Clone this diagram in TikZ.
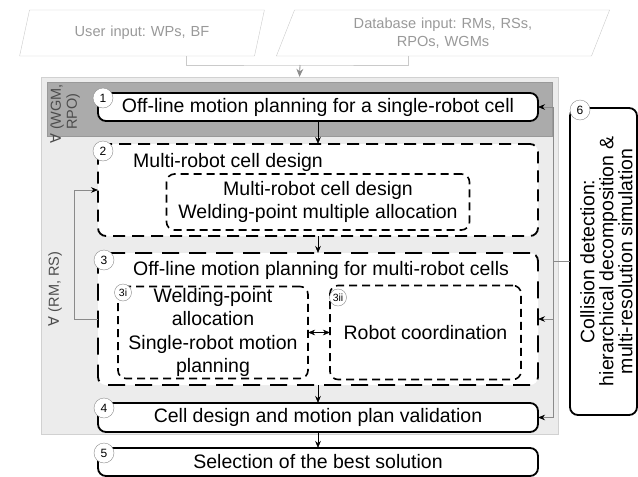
\documentclass[tikz,border=0pt]{standalone}
\usepackage{fontspec}
\setmainfont{Liberation Sans}
\newfontfamily\symfont{DejaVu Sans}
\usepackage{tikz}
\usetikzlibrary{arrows.meta,positioning,shapes.geometric,calc}
\frenchspacing

\definecolor{bandgray}{HTML}{ABABAB}
\definecolor{panelgray}{HTML}{ECECEC}
\definecolor{inputgray}{HTML}{CACACA}
\definecolor{wiregray}{HTML}{8A8A8A}

\begin{document}
\begin{tikzpicture}[x=1pt,y=-1pt,>={Stealth[length=7pt,width=5.5pt,color=black]},node distance=20pt,
    every node/.style={font=\fontsize{19.5}{23.5}\selectfont},
    input/.style={trapezium,trapezium left angle=64,trapezium right angle=116,
      trapezium stretches body,draw=inputgray,text=black!40,align=center,inner xsep=0pt,
      font=\fontsize{14.6}{18}\selectfont,minimum height=46pt},
    stage/.style={draw,line width=1.8pt,rounded corners=8pt,fill=white,
      minimum width=440pt,inner sep=0pt,outer sep=0pt},
    dashstage/.style={stage,dash pattern=on 12pt off 7pt},
    substage/.style={stage,line width=1.6pt,dash pattern=on 8pt off 5pt,align=center},
    num/.style={circle,draw=black!45,fill=white,inner sep=0pt,minimum size=20pt,
      font=\fontsize{12}{12}\selectfont},
    subnum/.style={num,minimum size=17pt,font=\fontsize{10.5}{10.5}\selectfont},
    wire/.style={draw=wiregray,line width=0.6pt},
    forall/.style={rotate=90,text=black!70,font=\fontsize{14.5}{16}\selectfont,inner sep=0pt}]

  \useasboundingbox (0,0) rectangle (638,477);

  % inputs
  \node[input,text width=225pt] (userin) at (142,33) {User input: WPs, BF};
  \node[input,text width=297pt] (dbin) at (443,33) {Database input: RMs, RSs,\\RPOs, WGMs};

  % panels
  \node[draw=black!18,fill=panelgray,minimum width=517pt,minimum height=357pt] (panel) at (299.5,255.5) {};
  \node[draw=black!40,fill=bandgray,minimum width=505pt,minimum height=54pt] (band) at (299.5,109) {};

  \coordinate (merge) at (300,65);
  \draw[draw=inputgray,line width=0.6pt] ($(userin.bottom left corner)!.71!(userin.bottom right corner)$)
    |- (merge) -| ($(dbin.bottom left corner)!.42!(dbin.bottom right corner)$);
  \draw[-{Stealth[length=8pt,width=7pt]},draw=black!45,line width=0.8pt] (merge) -- (panel.north);

  % stages
  \node[stage,minimum height=28pt] (b1) at (318,107) {Off-line motion planning for a single-robot cell};
  \node[dashstage,minimum height=92pt] (b2) [below=23pt of b1] {};
  \node[dashstage,minimum height=132pt,dash pattern=on 17pt off 10pt] (b3) [below=17pt of b2] {};
  \node[stage,minimum height=29pt] (b4) [below=18pt of b3] {Cell design and motion plan validation};
  \node[stage,minimum height=28pt] (b5) [below=16pt of b4] {Selection of the best solution};

  \node[anchor=west,inner sep=0pt] (b2title) at ([shift={(35pt,-18pt)}]b2.north west) {Multi-robot cell design};
  \node[substage,minimum width=303pt,minimum height=56pt] (b2i) at ([yshift=-12pt]b2.center)
    {Multi-robot cell design\\Welding-point multiple allocation};

  \node[anchor=west,inner sep=0pt] (b3title) at ([shift={(35pt,-17pt)}]b3.north west) {Off-line motion planning for multi-robot cells};
  \node[substage,minimum width=190pt,minimum height=92pt] (b3i) at ([shift={(-105pt,-13.5pt)}]b3.center)
    {Welding-point\\allocation\\Single-robot motion\\planning};
  \node[substage,minimum width=191pt,minimum height=94pt] (b3ii) at ([shift={(107.5pt,-13.5pt)}]b3.center)
    {Robot coordination};

  \node[stage,minimum width=67pt,minimum height=307pt] (b6) at (603.5,261.5) {};
  \node[rotate=90,align=center,font=\fontsize{19.5}{19}\selectfont] (b6text) at ([xshift=3pt]b6.center)
    {Collision detection:\\hierarchical decomposition \&\\multi-resolution simulation};

  % numbers
  \node[num] (n1) at ([shift={(5pt,-5pt)}]b1.north west) {1};
  \node[num] (n2) at ([shift={(5pt,-7pt)}]b2.north west) {2};
  \node[num] (n3) at ([shift={(6pt,-7pt)}]b3.north west) {3};
  \node[num] (n4) at ([shift={(6pt,-5pt)}]b4.north west) {4};
  \node[num] (n5) at ([shift={(6pt,-5pt)}]b5.north west) {5};
  \node[num] (n6) at ([shift={(10pt,-2pt)}]b6.north west) {6};
  \node[subnum] (n3i) at ([shift={(5pt,-6pt)}]b3i.north west) {3i};
  \node[subnum] (n3ii) at ([shift={(8pt,-12pt)}]b3ii.north west) {3ii};

  % loop labels
  \node[forall,align=left] (wgmrpo) at (65,114) {{\symfont ∀} (WGM,\\\hphantom{{\symfont ∀} }RPO)};
  \node[forall] (rmrs) at (55,289) {{\symfont ∀} (RM, RS)};

  % flow
  \path[->] (b1) edge (b2);
  \path[->] (b2) edge (b3);
  \path[->] (b3) edge (b4);
  \path[->] (b4) edge (b5);
  \path[<->] (b3i) edge (b3ii);

  \draw[wire,->] (b3.west) -- ++(-24pt,0) |- (b2.west);

  \coordinate (bus) at ([xshift=-17pt]b6.west);
  \draw[wire] (b6.west) -- (bus);
  \draw[wire,->] (bus) |- (b1.east);
  \draw[wire,->] (bus) |- (b3.east);
  \draw[wire,->] (bus) |- (b4.east);

\end{tikzpicture}
\end{document}
